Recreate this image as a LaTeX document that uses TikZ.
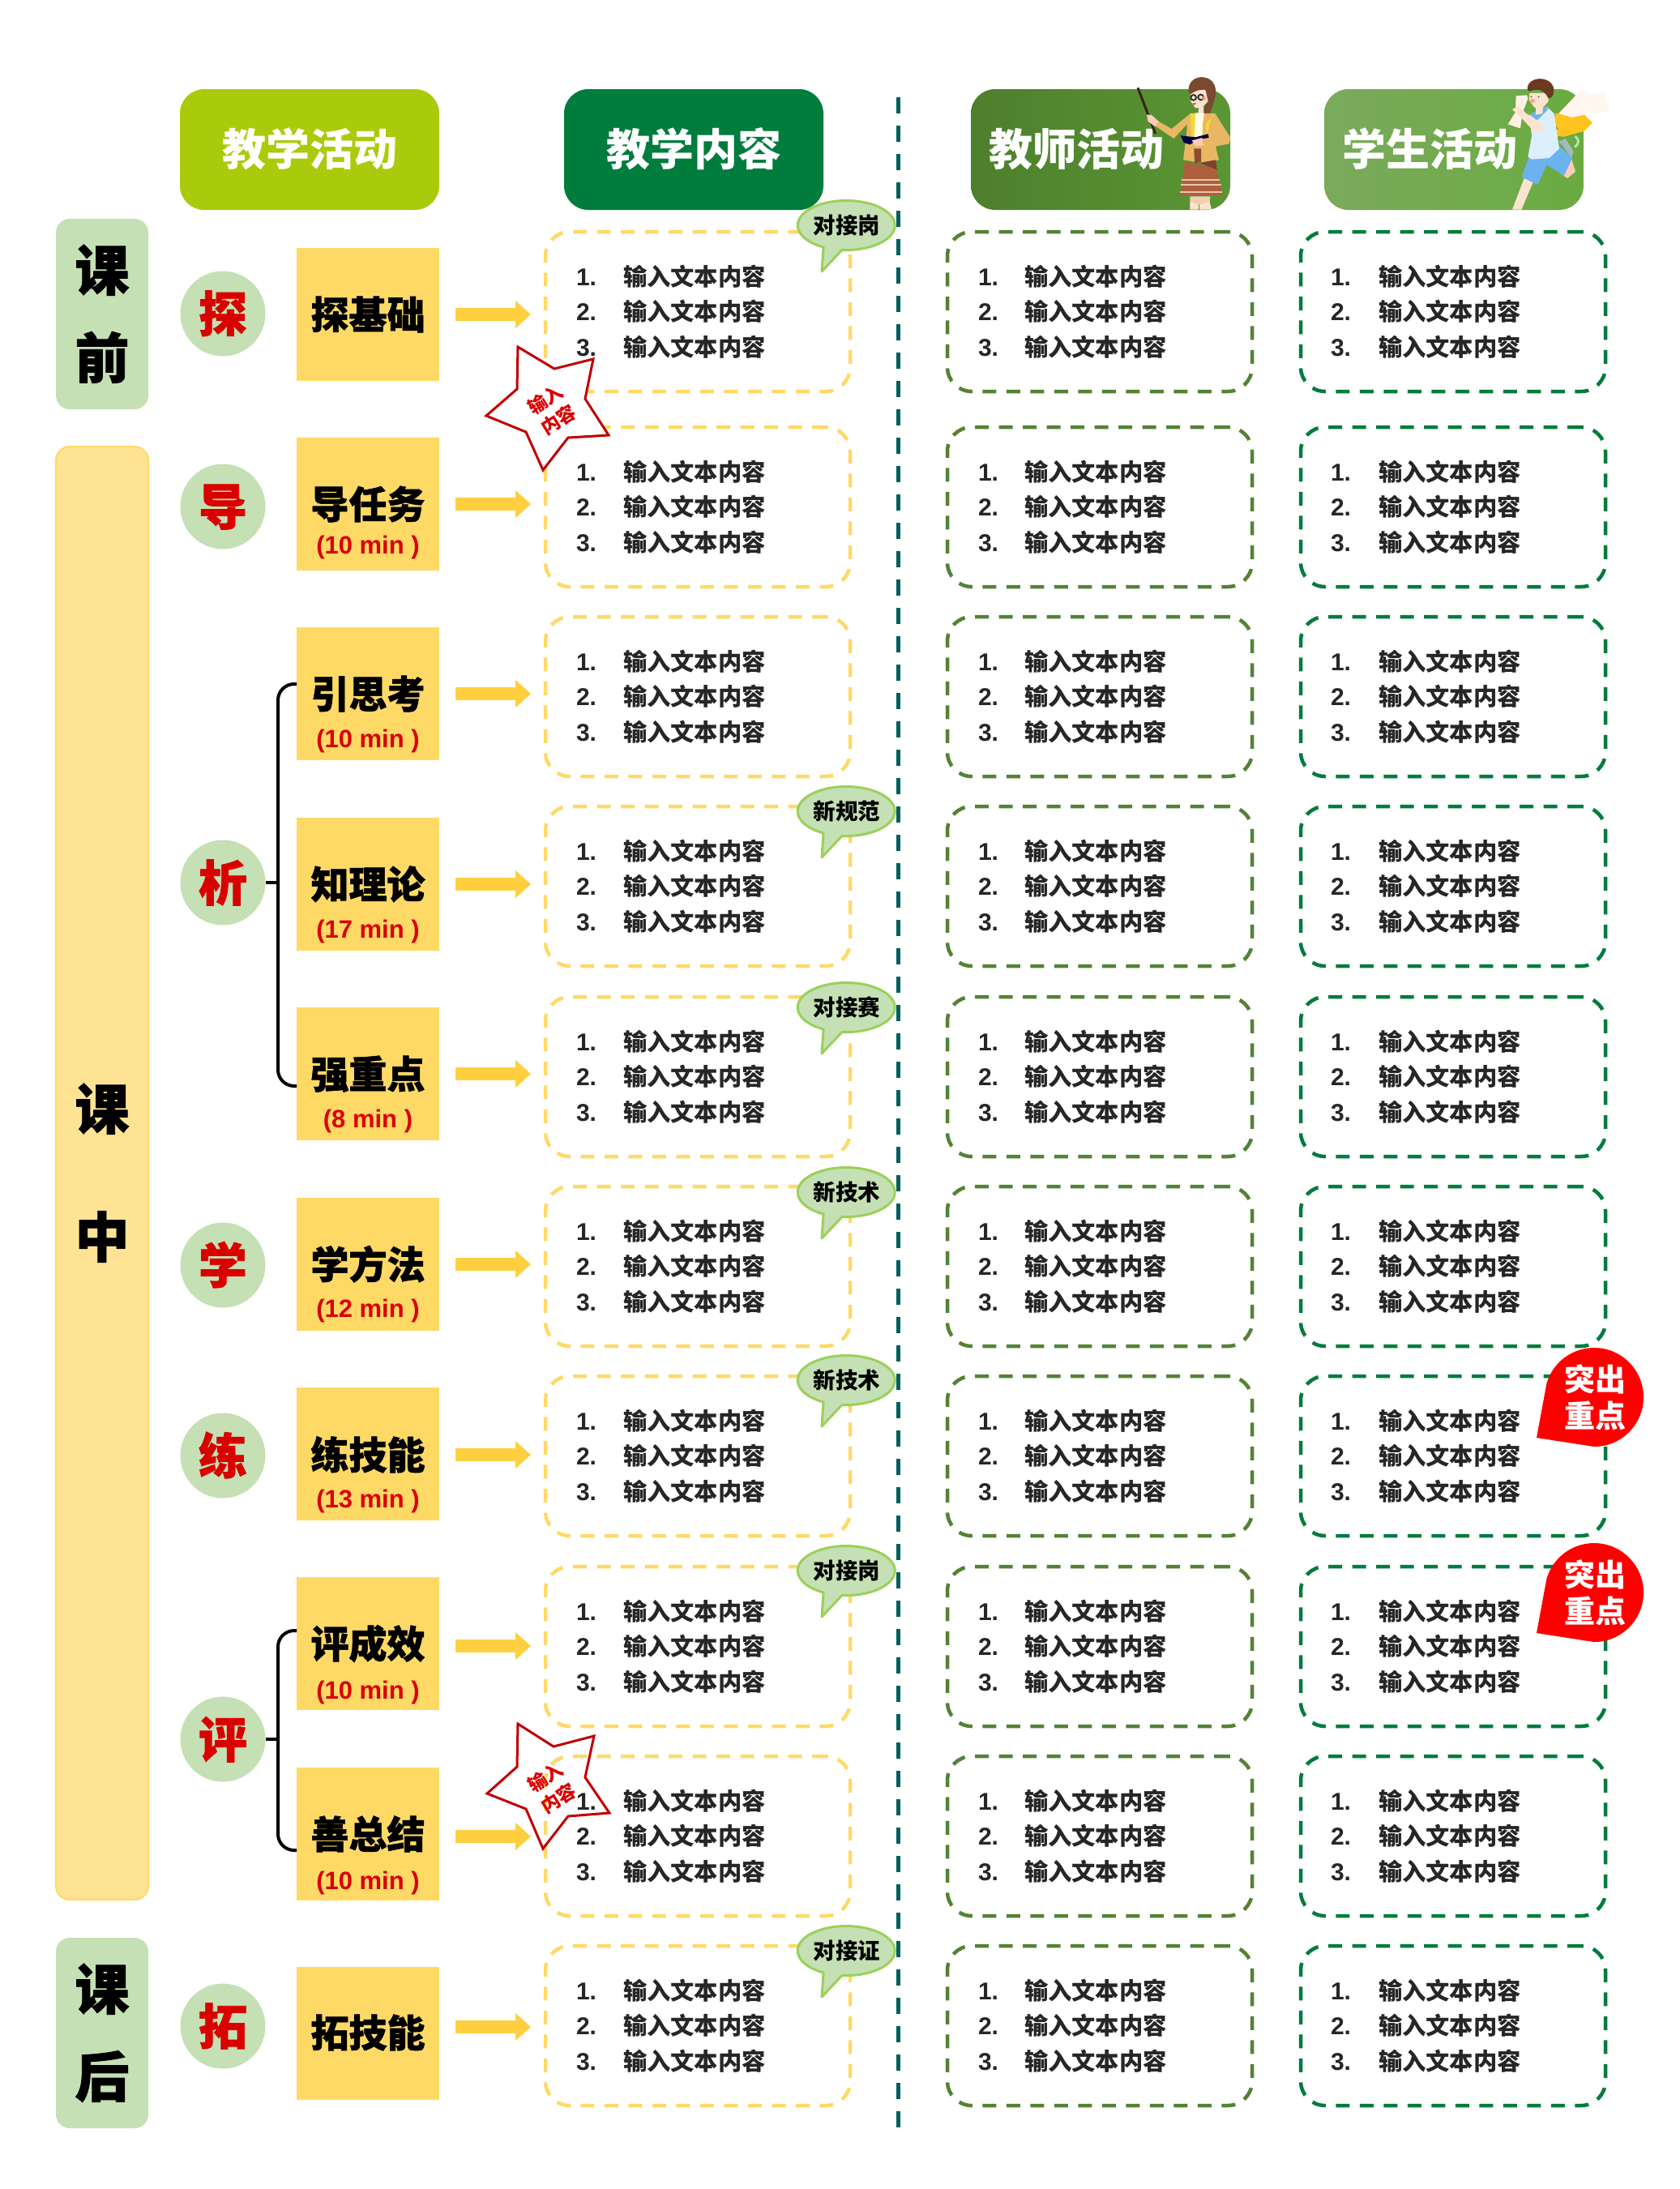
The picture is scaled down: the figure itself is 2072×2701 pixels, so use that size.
\documentclass[tikz,border=0pt]{standalone}
\usepackage{fontspec}
\setmainfont{Liberation Sans}
\newfontfamily\cjk{Noto Sans CJK SC}
\newfontfamily\cjkh{Noto Sans CJK SC}[BoldFeatures={FakeBold=1.2}]
\usetikzlibrary{arrows.meta,calc,shapes.geometric}
\definecolor{ybox}{HTML}{FFD966}
\definecolor{ybar}{HTML}{FFE394}
\definecolor{lgreen}{HTML}{C5E0B4}
\definecolor{hlime}{HTML}{AACB0C}
\definecolor{hgreen}{HTML}{007C3D}
\definecolor{tgreen}{HTML}{548235}
\definecolor{divline}{HTML}{005F5A}
\definecolor{redt}{HTML}{D90000}
\definecolor{arrowy}{HTML}{FFCF40}
\definecolor{txt}{HTML}{262626}
\definecolor{bubbleb}{HTML}{9BD05A}
\definecolor{starc}{HTML}{C00000}
\definecolor{skin}{HTML}{FCE3CF}
\definecolor{hthreel}{HTML}{4E7F2D}
\definecolor{hthreer}{HTML}{5A9634}
\definecolor{hfourl}{HTML}{7BAA5C}
\definecolor{hfourr}{HTML}{6AAB40}
\definecolor{cardigan}{HTML}{E9B763}
\definecolor{skirt}{HTML}{AD5F3F}
\definecolor{thair}{HTML}{7A4A30}
\definecolor{shair}{HTML}{6B3A20}
\definecolor{scarf}{HTML}{FFC320}
\definecolor{shorts}{HTML}{6CB2EE}
\definecolor{shirt}{HTML}{DDEFFC}
\tikzset{
  cjkt/.style={font=\fontsize{#1}{#1}\selectfont\cjk\bfseries,inner sep=0pt,outer sep=0pt,text height={0.88*#1 pt},text depth={0.12*#1 pt}},
  cjkb/.style={font=\fontsize{#1}{#1}\selectfont\cjkh\bfseries,inner sep=0pt,outer sep=0pt,text height={0.88*#1 pt},text depth={0.12*#1 pt}},
  latt/.style={font=\fontsize{#1}{#1}\selectfont\bfseries,inner sep=0pt,outer sep=0pt,text height={0.88*#1 pt},text depth={0.12*#1 pt}},
  headbox/.style={rectangle,rounded corners=30pt,minimum width=320pt,minimum height=149pt,inner sep=0pt,outer sep=0pt},
  bar/.style={rectangle,rounded corners=17pt,fill=lgreen,minimum width=114pt,inner sep=0pt,outer sep=0pt},
  disc/.style={ellipse,fill=lgreen,minimum width=105pt,minimum height=105pt,inner sep=0pt,outer sep=0pt},
  stage/.style={rectangle,fill=ybox,minimum width=176pt,minimum height=164pt,inner sep=0pt,outer sep=0pt},
  content/.style={rectangle,rounded corners=30pt,draw=#1,line width=4.5pt,dash pattern=on 17pt off 12.5pt,minimum height=197pt,inner sep=0pt,outer sep=0pt},
  flow/.style={arrowy,line width=16pt,shorten <=20pt,shorten >=18pt,-{Triangle[width=33pt,length=19pt]}},
  brk/.style={black,line width=4pt,rounded corners=20pt},
  bubble/.style={fill=lgreen,draw=bubbleb,line width=3pt,line join=round},
  starshape/.style={draw=starc,line width=3pt,line join=miter},
}
\begin{document}
\begin{tikzpicture}[x=1pt,y=1pt,yscale=-1]
\useasboundingbox (0,0) rectangle (2072,2701);
\fill[white] (0,0) rectangle (2072,2701);
% column divider
\coordinate (divtop) at (1108,120);
\coordinate (divbot) at (1108,2625);
\draw[divline,line width=5pt,dash pattern=on 20pt off 15pt] (divtop) -- (divbot);
% headers
\node[headbox,fill=hlime] (h1) at (382,184.5) {};
\node[headbox,fill=hgreen] (h2) at (856,184.5) {};
\node[headbox,left color=hthreel,right color=hthreer] (h3) at (1358,184.5) {};
\node[headbox,left color=hfourl,right color=hfourr] (h4) at (1794,184.5) {};
\node[cjkt=54,white] (ht1) at (382,183.5) {教学活动};
\node[cjkt=54,white] (ht2) at (856,183.5) {教学内容};
\node[cjkt=54,white] (ht3) at (1328.5,183.5) {教师活动};
\node[cjkt=54,white] (ht4) at (1764.5,183.5) {学生活动};
% teacher
\begin{scope}[shift={(1400,90)},scale=0.3333]
\draw[black!70!brown,line width=3pt] (12,55) -- (77,225);
\fill[thair] (200,70) .. controls (195,30) and (230,12) .. (255,16) .. controls (295,20) and (310,60) .. (295,100) .. controls (285,140) and (270,170) .. (255,195) .. controls (250,150) and (265,110) .. (262,90) -- cycle;
\fill[skin] (205,65) -- (262,62) -- (272,105) -- (250,128) -- (225,130) -- (208,105) -- cycle;
\fill[skin] (238,125) -- (255,125) -- (255,150) -- (235,150) -- cycle;
\fill[thair] (200,70) .. controls (215,50) and (245,35) .. (270,75) -- (262,62) .. controls (245,60) and (225,65) .. (205,80) -- cycle;
\draw[black!80,line width=2pt] (218,91) circle (10pt) (245,90) circle (10pt);
\fill[red!40!skin] (256,94) circle (7pt);
\fill[red!70!black] (214,113) -- (228,112) -- (220,118) -- cycle;
% cardigan
\fill[cardigan] (207,150) -- (298,150) -- (355,240) -- (350,262) -- (300,272) -- (312,322) -- (248,333) -- (180,322) -- (192,230) -- (194,190) -- (145,243) -- (75,195) -- (90,180) -- (137,207) -- cycle;
\fill[yellow!55!cardigan] (207,150) -- (225,150) -- (225,235) -- (210,235) -- cycle (262,190) -- (298,150) -- (285,160) -- (268,230) -- cycle;
\fill[white!90!yellow] (225,148) -- (258,148) -- (252,190) -- (250,240) -- (222,240) -- cycle;
\fill[skirt!80!black] (220,280) -- (246,280) -- (246,330) -- (222,335) -- cycle;
\fill[skin!90!red] (45,155) -- (62,155) -- (90,180) -- (75,198) -- (50,180) -- cycle;
\fill[black!75!blue] (170,232) -- (225,238) -- (272,226) -- (275,240) -- (240,245) -- (205,265) -- (182,258) -- cycle;
\fill[skin!90!red] (212,250) -- (250,240) -- (254,268) -- (225,270) -- cycle;
% skirt
\fill[skirt] (185,330) -- (246,342) -- (302,352) -- (326,452) -- (170,456) -- cycle;
\fill[skirt!70!black] (240,333) -- (300,322) -- (305,358) -- cycle;
\draw[skin!70!brown,line width=2pt] (173,397) -- (316,397) (172,415) -- (320,415) (169,442) -- (325,442);
\fill[skin!80!brown] (205,457) -- (280,457) -- (278,480) -- (238,486) -- (205,480) -- cycle;
\fill[skin] (205,478) -- (237,486) -- (236,506) -- (205,506) -- cycle (240,486) -- (278,478) -- (285,506) -- (240,506) -- cycle;
\end{scope}
% student
\begin{scope}[shift={(1840,90)},scale=0.3333]
\fill[orange!8!white,opacity=.8] (365,82) -- (420,72) -- (440,145) -- (370,148) -- cycle;
\fill[orange!6!white] (250,150) -- (335,60) -- (405,105) -- (340,158) -- (310,190) -- cycle;
\fill[scarf] (240,148) -- (300,165) -- (345,155) -- (375,185) -- (345,215) -- (270,236) -- (180,228) -- (125,165) -- (140,155) -- (180,205) -- (250,210) -- (230,180) -- cycle;
% shoe and back leg
\draw[black!35!green!30!white,line width=3pt] (310,235) .. controls (328,245) and (325,262) .. (310,275);
\fill[cyan!25!gray!70!white] (250,255) -- (275,243) -- (305,290) -- (297,315) -- (265,270) -- cycle;
\fill[skin!90!red] (295,310) -- (312,365) -- (282,390) -- (265,378) -- cycle;
% front leg
\fill[skin] (122,390) -- (155,405) -- (112,506) -- (78,506) -- cycle;
% shorts
\fill[shorts] (140,310) -- (225,305) -- (250,268) -- (300,315) -- (270,380) -- (205,340) -- (172,414) -- (113,385) -- cycle;
% shirt
\fill[shirt] (142,155) -- (205,125) -- (233,150) -- (252,280) -- (215,315) -- (150,320) -- (136,310) -- (150,235) -- cycle;
\fill[shorts] (142,155) -- (205,125) -- (210,135) -- (170,175) -- cycle;
% hair and face
\fill[skin] (142,75) -- (212,75) -- (212,105) -- (190,130) -- (160,128) -- (140,100) -- cycle;
\fill[skin] (165,125) -- (192,125) -- (190,150) -- (165,155) -- cycle;
\fill[shair] (135,65) .. controls (125,25) and (190,5) .. (222,38) .. controls (245,65) and (225,100) .. (210,92) .. controls (205,75) and (185,60) .. (165,62) .. controls (150,63) and (145,72) .. (135,65) -- cycle;
\fill[red!30!skin] (153,103) circle (8pt);
\fill[shair] (148,88) circle (3pt) (176,88) circle (3pt);
% scroll and arm
\fill[orange!10!white] (92,85) -- (132,82) -- (136,95) -- (115,150) -- (108,205) -- (62,190) -- (90,145) -- cycle;
\fill[skin] (78,135) -- (100,122) -- (130,150) -- (190,190) -- (195,212) -- (160,218) -- (110,165) -- cycle;
\end{scope}
% phase bars
\node[bar,minimum height=235pt] (b1) at (126,387.5) {};
\node[bar,fill=ybar,draw=ybox,line width=2pt,minimum height=1793pt] (b2) at (126,1447.5) {};
\node[bar,minimum height=235pt] (b3) at (126,2508.5) {};
\node[cjkb=67] (b1a) at (126,333) {课};
\node[cjkb=67] (b1b) at (126,441) {前};
\node[cjkb=67] (b2a) at (126,1368) {课};
\node[cjkb=67] (b2b) at (126,1526) {中};
\node[cjkb=67] (b3a) at (126,2454) {课};
\node[cjkb=67] (b3b) at (126,2562) {后};
% stage discs
\foreach \n/\yy/\lab in {d1/387/探,d2/625/导,d3/1089/析,d4/1561/学,d5/1796/练,d6/2146/评,d7/2500/拓}{
  \node[disc] (\n) at (275,\yy) {};
  \node[cjkb=60,redt] (\n t) at (275,\yy) {\lab};
}
% stage boxes
\foreach \i/\yy/\lab/\ty in {1/388/探基础/388,2/622/导任务/622,3/856.4/引思考/856,4/1090.8/知理论/1091,5/1325.2/强重点/1325,6/1559.6/学方法/1560,7/1794/练技能/1795,8/2028.4/评成效/2028,9/2262.8/善总结/2263,10/2509/拓技能/2508}{
  \node[stage] (y\i) at (454,\yy) {};
  \node[cjkb=47] (yt\i) at (454,\ty) {\lab};
}
\foreach \i/\ty/\lab in {2/672/(10 min ),3/911/(10 min ),4/1146/(17 min ),5/1380/(8 min ),6/1614/(12 min ),7/1849/(13 min ),8/2085/(10 min ),9/2320/(10 min )}{
  \node[latt=31,redt] (ym\i) at (454,\ty) {\lab};
}
% content boxes, flows and list text
\foreach \i/\tp/\ay in {1/286/388,2/527/622,3/761/856,4/995/1091,5/1230/1325,6/1464/1560,7/1698/1795,8/1933/2031,9/2167/2266,10/2401/2501}{
  \node[content=ybox,minimum width=376pt] (c\i) at (861,\tp+98.5) {};
  \node[content=tgreen,minimum width=376pt] (e\i) at (1357,\tp+98.5) {};
  \node[content=hgreen,minimum width=376pt] (f\i) at (1793,\tp+98.5) {};
  \coordinate (a\i) at (542,\ay);
  \draw[flow] (a\i) -- (a\i -| c\i.west);
  \foreach \col/\nx/\tx in {c/711/769,e/1207/1264,f/1642/1701}{
    \foreach \k/\dy in {1/55,2/98.5,3/142}{
      \node[latt=30,txt,anchor=west] (\col\i n\k) at (\nx,\tp+\dy) {\k.};
      \node[cjkt=29.3,txt,anchor=west] (\col\i t\k) at (\tx,\tp+\dy) {输入文本内容};
    }
  }
}
% speech bubbles
\foreach \n/\cy/\lab in {1/278/对接岗,2/1001/新规范,3/1243/对接赛,4/1471/新技术,5/1703/新技术,6/1938/对接岗,7/2407/对接证}{
  \coordinate (sp\n) at (1044,\cy);
  \draw[bubble] ($(sp\n)+(-5,30.4)$) arc[start angle=95,end angle=-242,x radius=60,y radius=30.5] -- ($(sp\n)+(-30,57)$) -- cycle;
  \node[cjkt=27.5] (spt\n) at ($(sp\n)+(1,0)$) {\lab};
}
% stars
\draw[starshape,fill=white] (639,428) -- (684,455) -- (732,443) -- (722,492) -- (751,537) -- (701,540) -- (670,580) -- (649,533) -- (600,513) -- (638,480) -- cycle;
\node[cjkt=23,redt,rotate=32] (st1a) at (673,493) {输入};
\node[cjkt=23,redt,rotate=32] (st1b) at (689,518) {内容};
\draw[starshape] (639,2127) -- (683,2155) -- (733,2142) -- (722,2193) -- (752,2237) -- (701,2241) -- (670,2281) -- (649,2232) -- (601,2213) -- (638,2180) -- cycle;
\node[cjkt=23,redt,rotate=32] (st2a) at (673,2193) {输入};
\node[cjkt=23,redt,rotate=32] (st2b) at (689,2219) {内容};
% brackets
\coordinate (j3) at (343,1089);
\coordinate (t3) at (366,844);
\coordinate (u3) at (366,1340);
\draw[brk] (d3.east) -- (j3);
\draw[brk] (t3) -- (343,844) -- (343,1340) -- (u3);
\coordinate (j6) at (343,2146);
\coordinate (t6) at (366,2012);
\coordinate (u6) at (366,2283);
\draw[brk] (d6.east) -- (j6);
\draw[brk] (t6) -- (343,2012) -- (343,2283) -- (u6);
% teardrop marks
\foreach \n/\cy in {1/1724,2/1965}{
  \coordinate (dr\n) at (1967,\cy);
  \fill[red] ($(dr\n)+(0,61)$) arc[start angle=90,end angle=-164,radius=61] -- ($(dr\n)+(-71,50)$) -- cycle;
  \node[cjkt=38,white] (dra\n) at ($(dr\n)+(1.5,-22)$) {突出};
  \node[cjkt=38,white] (drb\n) at ($(dr\n)+(1.5,23)$) {重点};
}
\end{tikzpicture}
\end{document}
